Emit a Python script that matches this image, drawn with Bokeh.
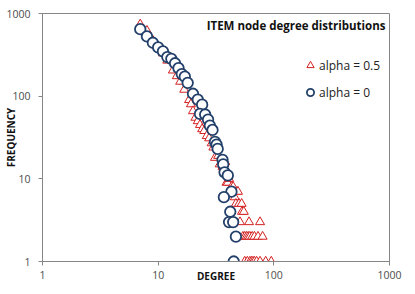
from bokeh.plotting import figure
from bokeh.models import (ColumnDataSource, FixedTicker, PrintfTickFormatter, Label,
                          Legend, LegendItem)
from bokeh.embed import file_html
from bokeh.resources import INLINE

# alpha = 0 (circles)
deg_a0 = [7, 8, 9, 10, 11, 12, 13, 14, 15, 16, 17, 18, 20, 22, 24, 23, 25.5, 27, 28, 29.5,
          31, 32, 32.7, 36, 36.5, 37.5, 40, 43, 37, 42, 41, 44.5, 47, 45]
freq_a0 = [646, 529, 443, 390, 348, 297, 283, 250, 218, 185, 172, 145, 107, 91, 79, 61, 60, 52, 44, 39,
           28, 26, 23, 17, 15, 12, 11, 7, 6, 4, 3, 3, 2, 1]

# alpha = 0.5 (triangles)
deg_a05 = [7, 8, 9, 10, 11, 12, 13.4, 14.5, 15.5, 16.8, 18.5, 19.2, 20, 21, 22, 23, 24, 25, 26.3, 27.6,
           29, 30, 31, 33, 34, 36, 38, 39, 40, 41, 43, 44.5, 46, 47, 48, 49, 50, 52.7, 53, 55,
           51, 61, 76,
           54, 56, 58, 60, 62, 65, 68, 73, 80,
           56, 59, 62, 64, 66, 68, 71, 76, 85, 95]
freq_a05 = [740, 620, 470, 400, 330, 270, 205, 175, 150, 120, 90, 80, 66, 55, 50, 45, 40, 38, 33, 31,
            27, 24, 18, 19, 15, 14, 16, 9, 9, 10, 8, 8, 6, 5, 7, 7, 5, 5, 4, 4,
            3, 3, 3,
            2, 2, 2, 2, 2, 2, 2, 2, 2,
            1, 1, 1, 1, 1, 1, 1, 1, 1, 1]

x_ticks = [1, 10, 100, 1000]
y_ticks = [1, 10, 100, 1000]

title_text = "ITEM node degree distributions"
x_title = "DEGREE"
y_title = "FREQUENCY"
label_a05 = "alpha = 0.5"
label_a0 = "alpha = 0"

RED = "#D42020"
BLUE = "#23406A"
GRAY = "#868686"
TICKC = "#4D4D4D"
FONT = "Open Sans"

p = figure(width=407, height=286, x_axis_type="log", y_axis_type="log",
           x_range=(1, 1000), y_range=(1, 1000),
           output_backend="svg", toolbar_location=None,
           min_border_left=42, min_border_right=18, min_border_top=13, min_border_bottom=25)
p.xgrid.visible = False
p.ygrid.visible = False
p.outline_line_color = GRAY
p.outline_line_width = 1
p.background_fill_color = "white"
p.border_fill_color = "white"

for ax, ticks in ((p.xaxis[0], x_ticks), (p.yaxis[0], y_ticks)):
    ax.ticker = FixedTicker(ticks=ticks, minor_ticks=[])
    ax.formatter = PrintfTickFormatter(format="%d")
    ax.axis_line_color = GRAY
    ax.major_tick_line_color = GRAY
    ax.minor_tick_line_color = None
    ax.major_tick_in = 0
    ax.major_tick_out = 4
    ax.major_label_text_font = FONT
    ax.major_label_text_font_size = "10.5px"
    ax.major_label_text_color = TICKC
    ax.axis_label_text_font = FONT
    ax.axis_label_text_font_style = "bold"
    ax.axis_label_text_font_size = "10px"
    ax.axis_label_text_color = "#111111"
p.yaxis[0].major_label_standoff = 8
p.xaxis[0].major_label_standoff = 5
p.xaxis[0].axis_label = x_title
p.yaxis[0].axis_label = y_title
p.xaxis[0].axis_label_standoff = -13
p.yaxis[0].axis_label_standoff = -15

src05 = ColumnDataSource(dict(x=deg_a05, y=freq_a05))
src0 = ColumnDataSource(dict(x=deg_a0, y=freq_a0))
r05 = p.scatter("x", "y", source=src05, marker="triangle", size=9,
                line_color=RED, fill_color="white", line_width=1)
r0 = p.scatter("x", "y", source=src0, marker="circle", size=10.5,
               line_color=BLUE, fill_color="white", line_width=1.8)

legend = Legend(items=[LegendItem(label=label_a05, renderers=[r05]),
                       LegendItem(label=label_a0, renderers=[r0])],
                location=(259, 159), border_line_color=None, background_fill_alpha=0,
                label_text_font=FONT, label_text_font_size="12px", label_text_color="#222222",
                glyph_width=18, glyph_height=20, label_height=20, spacing=7,
                padding=5, margin=0, label_standoff=0)
p.add_layout(legend)

p.add_layout(Label(x=343, y=236, x_units="screen", y_units="screen", text=title_text,
                   text_font=FONT, text_font_style="bold", text_font_size="11.5px",
                   text_align="right", text_baseline="middle", text_color="#111111"))

open("out.html", "w").write(file_html(p, INLINE))
